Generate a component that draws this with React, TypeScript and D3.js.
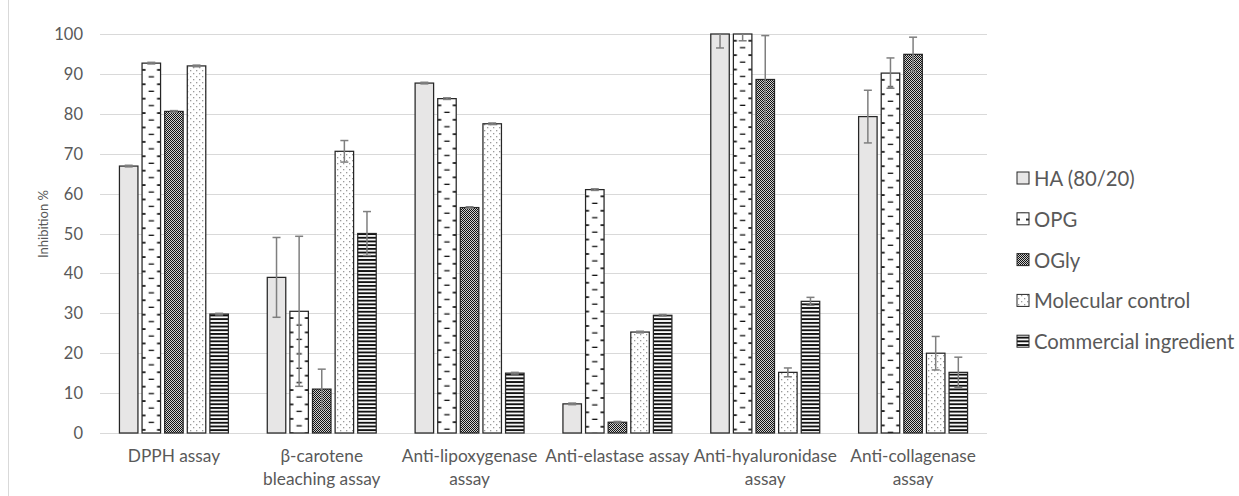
import React, { useEffect, useRef } from "react";
import * as d3 from "d3";

// Assays on the x axis (label lines as they wrap under each group)
const categories = [
  "DPPH assay",
  "β-carotene bleaching assay",
  "Anti-lipoxygenase assay",
  "Anti-elastase assay",
  "Anti-hyaluronidase assay",
  "Anti-collagenase assay",
];
const categoryLines = [
  ["DPPH assay"],
  ["β-carotene", "bleaching assay"],
  ["Anti-lipoxygenase", "assay"],
  ["Anti-elastase assay"],
  ["Anti-hyaluronidase", "assay"],
  ["Anti-collagenase", "assay"],
];

const seriesNames = ["HA (80/20)", "OPG", "OGly", "Molecular control", "Commercial ingredient"];

// Inhibition % (mean) and error (±) per assay
const haValues = [66.9, 39.0, 87.7, 7.3, 100, 79.3];
const haErrors = [0.2, 10.0, 0.2, 0.2, 3.5, 6.6];
const opgValues = [92.7, 30.5, 83.8, 61.0, 100, 90.2];
const opgErrors = [0.2, 18.8, 0.2, 0.2, 1.7, 3.8];
const oglyValues = [80.6, 11.0, 56.5, 2.7, 88.6, 94.9];
const oglyErrors = [0.2, 5.0, 0.2, 0.2, 11.0, 4.3];
const mcValues = [92.0, 70.6, 77.5, 25.3, 15.2, 20.0];
const mcErrors = [0.2, 2.7, 0.2, 0.2, 1.1, 4.2];
const ciValues = [29.8, 50.0, 15.0, 29.5, 33.0, 15.2];
const ciErrors = [0.2, 5.5, 0.2, 0.2, 1.0, 3.8];

const yTicks = [0, 10, 20, 30, 40, 50, 60, 70, 80, 90, 100];
const yTitle = "Inhibition %";

const WIDTH = 1239;
const HEIGHT = 496;
const FONT = "Lato, 'Noto Sans', sans-serif";
const TEXT = "#595959";
const OUTLINE = "#262626";

type Fill = "solid" | "dash" | "checker" | "dots" | "stripes";

const series: { name: string; values: number[]; errors: number[]; fill: Fill }[] = [
  { name: seriesNames[0], values: haValues, errors: haErrors, fill: "solid" },
  { name: seriesNames[1], values: opgValues, errors: opgErrors, fill: "dash" },
  { name: seriesNames[2], values: oglyValues, errors: oglyErrors, fill: "checker" },
  { name: seriesNames[3], values: mcValues, errors: mcErrors, fill: "dots" },
  { name: seriesNames[4], values: ciValues, errors: ciErrors, fill: "stripes" },
];

export default function App() {
  const ref = useRef<SVGSVGElement>(null);

  useEffect(() => {
    const svg = d3.select(ref.current);
    svg.selectAll("*").remove();

    const plot = { left: 100, right: 987, top: 34, bottom: 433 };

    const x0 = d3.scaleBand<string>().domain(categories).range([plot.left, plot.right]);
    const groupW = x0.bandwidth() * 0.737;
    const x1 = d3.scaleBand<string>().domain(seriesNames).range([0, groupW]).paddingInner(0.182);
    const y = d3.scaleLinear().domain([0, 100]).range([plot.bottom, plot.top]);

    const defs = svg.append("defs");

    // shared fill patterns
    const checker = defs.append("pattern").attr("id", "p-checker")
      .attr("patternUnits", "userSpaceOnUse").attr("width", 2).attr("height", 2);
    checker.append("rect").attr("width", 2).attr("height", 2).attr("fill", "#d0d0d0");
    checker.append("rect").attr("x", 0).attr("y", 0).attr("width", 1).attr("height", 1).attr("fill", "#111");
    checker.append("rect").attr("x", 1).attr("y", 1).attr("width", 1).attr("height", 1).attr("fill", "#111");

    const dots = defs.append("pattern").attr("id", "p-dots")
      .attr("patternUnits", "userSpaceOnUse").attr("width", 6).attr("height", 6);
    dots.append("rect").attr("width", 6).attr("height", 6).attr("fill", "#fff");
    dots.append("rect").attr("x", 1).attr("y", 1).attr("width", 1.3).attr("height", 1.3).attr("fill", "#9a9a9a");
    dots.append("rect").attr("x", 4).attr("y", 4).attr("width", 1.3).attr("height", 1.3).attr("fill", "#9a9a9a");

    const stripes = defs.append("pattern").attr("id", "p-stripes")
      .attr("patternUnits", "userSpaceOnUse").attr("width", 4).attr("height", 3.7);
    stripes.append("rect").attr("width", 4).attr("height", 3.7).attr("fill", "#fff");
    stripes.append("rect").attr("width", 4).attr("height", 1.9).attr("fill", "#111");

    // dashed-horizontal fill anchored to a given box
    let dashCount = 0;
    const dashPattern = (bx: number, by: number, bw: number) => {
      const id = `p-dash-${dashCount++}`;
      const period = 14.4;
      const p = defs.append("pattern").attr("id", id)
        .attr("patternUnits", "userSpaceOnUse")
        .attr("x", bx).attr("y", by).attr("width", bw).attr("height", period);
      p.append("rect").attr("width", bw).attr("height", period).attr("fill", "#fff");
      const t = 1.7;
      const edge = Math.min(3.5, bw * 0.25);
      p.append("rect").attr("x", 0).attr("y", 5.9).attr("width", edge).attr("height", t).attr("fill", "#111");
      p.append("rect").attr("x", bw - edge).attr("y", 5.9).attr("width", edge).attr("height", t).attr("fill", "#111");
      const mid = Math.min(5.4, bw * 0.4);
      p.append("rect").attr("x", bw / 2 - mid / 2).attr("y", 5.9 + period / 2).attr("width", mid).attr("height", t).attr("fill", "#111");
      return `url(#${id})`;
    };

    const fillFor = (f: Fill, bx: number, by: number, bw: number) => {
      switch (f) {
        case "solid": return "#e7e6e6";
        case "dash": return dashPattern(bx, by, bw);
        case "checker": return "url(#p-checker)";
        case "dots": return "url(#p-dots)";
        default: return "url(#p-stripes)";
      }
    };

    defs.append("clipPath").attr("id", "plot-clip")
      .append("rect")
      .attr("x", plot.left).attr("y", plot.top)
      .attr("width", plot.right - plot.left).attr("height", plot.bottom - plot.top);

    // chart area edge
    svg.append("line").attr("x1", 8.5).attr("x2", 8.5).attr("y1", 0).attr("y2", HEIGHT)
      .attr("stroke", "#d9d9d9").attr("stroke-width", 1);

    // gridlines
    svg.append("g").selectAll("line").data(yTicks).join("line")
      .attr("x1", plot.left).attr("x2", plot.right)
      .attr("y1", (d) => Math.round(y(d)) + 0.5).attr("y2", (d) => Math.round(y(d)) + 0.5)
      .attr("stroke", "#d9d9d9").attr("stroke-width", 1);

    // y tick labels
    svg.append("g").selectAll("text").data(yTicks).join("text")
      .attr("x", 83).attr("y", (d) => y(d))
      .attr("text-anchor", "end").attr("dominant-baseline", "central")
      .attr("font-family", FONT).attr("font-size", 16.5).attr("fill", TEXT)
      .text((d) => String(d));

    // y axis title
    svg.append("text")
      .attr("transform", `translate(43,224) rotate(-90)`)
      .attr("text-anchor", "middle").attr("dominant-baseline", "central")
      .attr("font-family", FONT).attr("font-size", 13).attr("fill", TEXT)
      .text(yTitle);

    // bars
    const offset = (x0.bandwidth() - groupW) / 2;
    const bw = x1.bandwidth();
    series.forEach((s) => {
      const g = svg.append("g");
      s.values.forEach((v, i) => {
        const bx = (x0(categories[i]) as number) + offset + (x1(s.name) as number);
        const by = y(v);
        g.append("rect")
          .attr("x", bx).attr("y", by)
          .attr("width", bw).attr("height", y(0) - by)
          .attr("fill", fillFor(s.fill, bx, by, bw))
          .attr("stroke", OUTLINE).attr("stroke-width", 1.25);
      });
    });

    // error bars
    const eg = svg.append("g").attr("clip-path", "url(#plot-clip)");
    series.forEach((s) => {
      s.values.forEach((v, i) => {
        const e = s.errors[i];
        const cx = (x0(categories[i]) as number) + offset + (x1(s.name) as number) + bw / 2;
        const lo = y(v - e);
        const hi = y(v + e);
        eg.append("line").attr("x1", cx).attr("x2", cx).attr("y1", lo).attr("y2", hi)
          .attr("stroke", "#7f7f7f").attr("stroke-width", 1.5);
        [lo, hi].forEach((yy) => {
          eg.append("line").attr("x1", cx - 4).attr("x2", cx + 4).attr("y1", yy).attr("y2", yy)
            .attr("stroke", "#7f7f7f").attr("stroke-width", 1.5);
        });
      });
    });

    // x axis category labels
    const xl = svg.append("g");
    categoryLines.forEach((lines, i) => {
      const cx = (x0(categories[i]) as number) + x0.bandwidth() / 2;
      lines.forEach((ln, j) => {
        xl.append("text")
          .attr("x", cx).attr("y", 462 + j * 23)
          .attr("text-anchor", "middle")
          .attr("font-family", FONT).attr("font-size", 17.3).attr("fill", TEXT)
          .text(ln);
      });
    });

    // legend
    const lg = svg.append("g");
    series.forEach((s, i) => {
      const cy = 178 + i * 40.8;
      const sx = 1017;
      const sy = cy - 6;
      lg.append("rect").attr("x", sx).attr("y", sy).attr("width", 12).attr("height", 12)
        .attr("fill", fillFor(s.fill, sx, sy, 12))
        .attr("stroke", OUTLINE).attr("stroke-width", 1);
      lg.append("text").attr("x", 1034).attr("y", cy)
        .attr("dominant-baseline", "central")
        .attr("font-family", FONT).attr("font-size", 20.3).attr("fill", TEXT)
        .text(s.name);
    });
  }, []);

  return (
    <svg
      ref={ref}
      width={WIDTH}
      height={HEIGHT}
      style={{ position: "absolute", left: 0, top: 0, background: "#fff" }}
    />
  );
}
